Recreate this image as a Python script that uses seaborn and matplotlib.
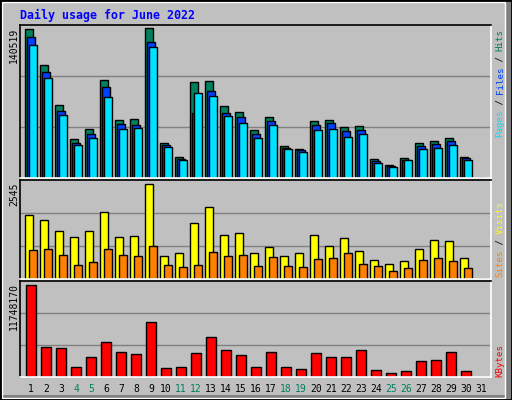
import numpy as np
import pandas as pd
import matplotlib
matplotlib.use("Agg")
import matplotlib.pyplot as plt
import seaborn as sns
from matplotlib.patches import Rectangle

sns.set_style("white")
plt.rcParams['font.family'] = ['DejaVu Sans Mono', 'DejaVu Sans']

days = list(range(1, 32))
px_top = 949.4
hits = [147,112,72,38,48,97,57,58,148,35,21,95,96,71,65,47,60,32,29,56,57,50,51,19,13,20,35,37,39,21,0]
files = [139,105,66,35,43,90,53,52,134,33,19,64,86,64,60,43,56,30,28,52,54,46,47,17,12,18,32,34,37,20,0]
pages = [131,99,62,33,39,80,48,49,129,31,18,84,81,61,54,39,52,29,26,47,48,40,43,15,11,18,29,30,33,18,0]
hits = [round(v*px_top) for v in hits]; hits[8] = 140519
files = [round(v*px_top) for v in files]
pages = [round(v*px_top) for v in pages]
px_mid = 2545/92
visits = [62,57,47,41,47,65,41,42,92,22,25,54,70,43,45,25,31,22,25,43,32,40,27,18,15,17,29,38,37,20,0]
sites = [28,29,23,14,16,29,23,22,32,14,12,14,26,22,23,13,21,13,12,19,20,25,15,13,8,11,18,20,17,11,0]
visits = [round(v*px_mid) for v in visits]; visits[8] = 2545
sites = [round(v*px_mid) for v in sites]
px_bot = 11748170/91.3
kbytes = [91.3,30,29,10,20,35,25,23,54,9,10,24,40,27,22,10,25,10,8,24,20,20,27,7,4,6,16,17,25,6,0]
kbytes = [round(v*px_bot) for v in kbytes]
weekend = [4,5,11,12,18,19,25,26]

C_HITS, C_FILES, C_PAGES = "#00805C", "#0040FF", "#00E0FF"
C_VIS, C_SITES, C_KB = "#FFFF00", "#FF8000", "#FF0000"
BG = "#C0C0C0"

W, H = 512, 400
fig = plt.figure(figsize=(W/100, H/100), dpi=100, facecolor=BG)

def axes_px(l, t, r, b):
    return fig.add_axes([l/W, 1-b/H, (r-l)/W, (b-t)/H])

xmin = 1 - 11/15
xmax = xmin + 471/15
d = np.array(days, dtype=float)

def panel(ax, series, ymax):
    ax.set_facecolor(BG)
    for i in (1, 2):
        ax.axhline(ymax*i/3, color="#808080", lw=1, zorder=0)
    for vals, off, wd, col in series:
        sns.barplot(x=d+off, y=vals, native_scale=True, width=wd, color=col,
                    edgecolor="black", linewidth=1, saturation=1, ax=ax, zorder=2)
    ax.set_xlim(xmin, xmax)
    ax.set_ylim(0, ymax)
    ax.set_xticks([]); ax.set_yticks([])
    ax.set_xlabel(""); ax.set_ylabel("")
    for s in ax.spines.values():
        s.set_color("black"); s.set_linewidth(1.2)
    ax.spines['right'].set_color("white")
    ax.spines['bottom'].set_color("white")

ax1 = axes_px(20, 25, 491, 178)
panel(ax1, [(hits, -2/15, 8/15, C_HITS), (files, 0, 8/15, C_FILES), (pages, 2/15, 8/15, C_PAGES)], 151*px_top)
ax2 = axes_px(20, 180, 491, 279)
panel(ax2, [(visits, -2/15, 8/15, C_VIS), (sites, 2/15, 8/15, C_SITES)], 96*px_mid)
ax3 = axes_px(20, 281, 491, 377)
panel(ax3, [(kbytes, 0, 10/15, C_KB)], 95*px_bot)

def fy(y): return 1 - y/H
def fx(x): return x/W

fig.text(fx(20), fy(15), "Daily usage for June 2022", color="#0000FF", fontsize=8.4,
         fontweight="bold", va="center", ha="left")

for txt, ytop in [("140519", 28), ("2545", 183), ("11748170", 283)]:
    fig.text(fx(14), fy(ytop), txt, rotation=90, va="top", ha="center", fontsize=7, color="black")

def vlabel(pieces, ybottom, cw=5.4):
    y = ybottom
    for s, c in pieces:
        fig.text(fx(500), fy(y), s, rotation=90, va="bottom", ha="center", fontsize=6.6, color=c)
        y -= len(s)*cw

vlabel([("Pages", C_PAGES), (" / ", "black"), ("Files", C_FILES), (" / ", "black"), ("Hits", C_HITS)], 137)
vlabel([("Sites", C_SITES), (" / ", "black"), ("Visits", C_VIS)], 277)
vlabel([("KBytes", C_KB)], 377)

for dd in days:
    x = 20 + (dd - xmin)*15
    fig.text(fx(x), fy(389), str(dd), ha="center", va="center", fontsize=7,
             color="#00805C" if dd in weekend else "black")

# frame
fig.patches.append(Rectangle((0, 0), 1, 1, transform=fig.transFigure, fill=False,
                             edgecolor="black", lw=2, zorder=10))
fig.patches.append(Rectangle((fx(505), 0), fx(7), 1, transform=fig.transFigure,
                             facecolor="#808080", edgecolor="none", zorder=9))
fig.patches.append(Rectangle((0, 0), 1, 5/H, transform=fig.transFigure,
                             facecolor="#808080", edgecolor="none", zorder=9))
fig.patches.append(Rectangle((fx(2), fy(398)), fx(503), (396)/H, transform=fig.transFigure,
                             fill=False, edgecolor="white", lw=1, zorder=9))

fig.savefig("out.png", dpi=100, facecolor=BG)
